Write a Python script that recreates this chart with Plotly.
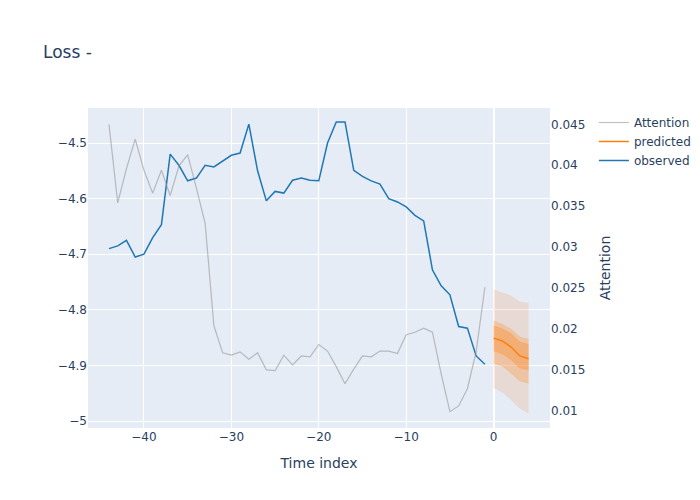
import plotly.graph_objects as go

obs_x = list(range(-44, 0))
observed = [
    -4.690, -4.685, -4.675, -4.705, -4.700, -4.670, -4.647, -4.520, -4.540, -4.568,
    -4.563, -4.540, -4.543, -4.533, -4.522, -4.518, -4.466, -4.550, -4.604, -4.587,
    -4.590, -4.567, -4.563, -4.567, -4.568, -4.500, -4.462, -4.462, -4.549, -4.560,
    -4.568, -4.574, -4.600, -4.606, -4.615, -4.630, -4.640, -4.728, -4.757, -4.773,
    -4.830, -4.833, -4.883, -4.898,
]
attention = [
    0.0450, 0.0354, 0.0396, 0.0432, 0.0394, 0.0366, 0.0394, 0.0363, 0.0399, 0.0413,
    0.0372, 0.0329, 0.0204, 0.0171, 0.0168, 0.0172, 0.0163, 0.0171, 0.0150, 0.0149,
    0.0168, 0.0156, 0.0167, 0.0166, 0.0181, 0.0173, 0.0154, 0.0133, 0.0151, 0.0167,
    0.0166, 0.0173, 0.0173, 0.0170, 0.0193, 0.0196, 0.0201, 0.0196, 0.0145, 0.0099,
    0.0106, 0.0127, 0.0172, 0.0251,
]

pred_x = [0, 1, 2, 3, 4]
predicted = [-4.851, -4.856, -4.867, -4.883, -4.888]
q_outer_hi = [-4.764, -4.769, -4.775, -4.786, -4.788]
q_outer_lo = [-4.940, -4.948, -4.962, -4.977, -4.986]
q_mid_hi = [-4.820, -4.826, -4.835, -4.849, -4.853]
q_mid_lo = [-4.896, -4.901, -4.914, -4.928, -4.932]
q_inner_hi = [-4.829, -4.834, -4.843, -4.858, -4.862]
q_inner_lo = [-4.874, -4.879, -4.890, -4.905, -4.908]

fig = go.Figure()
fig.add_trace(go.Scatter(x=obs_x, y=attention, name="Attention", mode="lines",
                         line=dict(color="rgba(150,150,150,0.6)", width=1.2), yaxis="y2"))

bands = [
    (q_outer_hi, q_outer_lo, "rgba(240,150,80,0.2)"),
    (q_mid_hi, q_mid_lo, "rgba(255,127,14,0.25)"),
    (q_inner_hi, q_inner_lo, "rgba(255,127,14,0.3)"),
]
for hi, lo, col in bands:
    fig.add_trace(go.Scatter(x=pred_x, y=hi, mode="lines", line=dict(width=0.5, color=col),
                             showlegend=False, hoverinfo="skip"))
    fig.add_trace(go.Scatter(x=pred_x, y=lo, mode="lines", line=dict(width=0.5, color=col),
                             fill="tonexty", fillcolor=col, showlegend=False, hoverinfo="skip"))

fig.add_trace(go.Scatter(x=pred_x, y=predicted, name="predicted", mode="lines",
                         line=dict(color="#ff7f0e", width=1.5)))
fig.add_trace(go.Scatter(x=obs_x, y=observed, name="observed", mode="lines",
                         line=dict(color="#1f77b4", width=1.5)))

fig.update_layout(
    width=700, height=500,
    font=dict(family="DejaVu Sans", size=12),
    title=dict(text="Loss -", x=0.05),
    margin=dict(l=80, r=154, t=100, b=80),
    xaxis=dict(title="Time index", range=[-46.4, 6.45], dtick=10, automargin=False),
    yaxis=dict(range=[-5.0126, -4.437], dtick=0.1, automargin=False),
    yaxis2=dict(title="Attention", overlaying="y", side="right", range=[0.0079, 0.047],
                dtick=0.005, showgrid=False, automargin=False),
    legend=dict(traceorder="normal", font=dict(size=12), x=1.095, xanchor="left", y=1),
)
fig.write_html("out.html")
